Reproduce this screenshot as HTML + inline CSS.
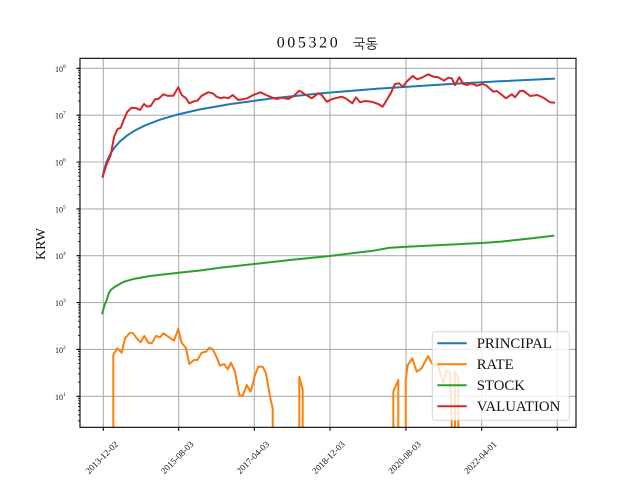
<!DOCTYPE html>
<html>
<head>
<meta charset="utf-8">
<style>
html,body{margin:0;padding:0;background:#fff;}
svg{display:block;}
text{font-family:"Liberation Serif","DejaVu Serif",serif;fill:#111;}
</style>
</head>
<body>
<svg width="640" height="480" viewBox="0 0 640 480" xmlns="http://www.w3.org/2000/svg">
<defs>
<clipPath id="ax"><rect x="80" y="58.3" width="496" height="369"/></clipPath>
</defs>
<rect x="0" y="0" width="640" height="480" fill="#fff"/>

<!-- grid -->
<g stroke="#b0b0b0" stroke-width="1.1" fill="none">
<path d="M103.3 58.3V427.3M178.7 58.3V427.3M254.3 58.3V427.3M330 58.3V427.3M406 58.3V427.3M481.7 58.3V427.3M557.3 58.3V427.3"/>
<path d="M80 396.3H576M80 349.4H576M80 302.6H576M80 255.7H576M80 208.9H576M80 162H576M80 115.2H576M80 68.3H576"/>
</g>

<!-- series -->
<g clip-path="url(#ax)" fill="none" stroke-width="2" stroke-linejoin="round" stroke-linecap="square">
<!-- PRINCIPAL -->
<path stroke="#1f77b4" d="M102.7,176.45 L104,170.43 L106,163.66 L108,158.59 L111,152.76 L115,146.93 L120,141.4 L127,135.55 L135,130.44 L145,125.44 L160,119.7 L178.3,114.34 L200,109.41 L230,104.1 L270,98.67 L320,93.43 L380,88.54 L450,84 L500,81.28 L554,78.7"/>
<!-- RATE -->
<path stroke="#ff7f0e" d="M113.3,430 L113.3,355 L117.3,348.3 L121.7,352.7 L125,338.3 L130,332.7 L133.3,333.3 L136.7,338.3 L140.7,342.3 L144.3,336 L148.3,342.7 L151.7,343.3 L156,336 L160,337.3 L163.3,333.3 L168.3,336.7 L174,340.7 L178.3,329 L181.7,342.7 L186,348.3 L189.3,364 L194,360 L197.3,360 L201.7,352.7 L206,351.7 L209.3,347.7 L212.7,349.3 L216.7,357.3 L220,365.7 L224.3,364 L227.7,369.3 L231,362.7 L235,371.7 L239.3,395 L242.7,396 L246.7,385 L250.7,391.7 L255,375 L258.3,366.7 L262.7,366.7 L266,373.3 L270,396.7 L272.7,408.3 L272.7,430"/>
<path stroke="#ff7f0e" d="M299.3,430 L299.3,376.7 L302.7,390 L302.7,430"/>
<path stroke="#ff7f0e" d="M393.3,430 L393.3,391.7 L398.3,380 L398.3,430"/>
<path stroke="#ff7f0e" d="M405.7,430 L405.7,380 L407.7,365 L410,361.7 L412.3,358.3 L416.7,371.7 L421.7,368.3 L425,361.7 L428.3,356 L431.7,363.3 L438.3,366.7 L443.3,383.3 L446.7,370 L450,373.3 L451.7,423 L451.7,430"/>
<path stroke="#ff7f0e" d="M455,430 L455,372 L458.3,378 L458.3,430"/>
<!-- STOCK -->
<path stroke="#2ca02c" d="M102.3,313.3 L104.5,305 L106.7,300 L108.5,294 L110.7,290 L115,286.7 L123.3,282 L133.3,279 L150,276 L178.7,272.7 L200,270.5 L220,267.7 L254.3,264 L290,260 L330,256 L350,253.5 L373.3,250.7 L390,247.7 L406.7,246.7 L481.7,243 L500,241.7 L530,238.5 L553.3,235.7"/>
<!-- VALUATION -->
<path stroke="#d62728" d="M102.7,176.7 L106,166 L110.7,155 L114,137.3 L117.3,129.3 L120.7,127.7 L124,119.3 L127.3,111.7 L131.7,107.7 L136.7,108.3 L140,110 L144,104 L147.3,106.7 L150.7,106 L155,99.3 L158.3,99 L163.3,94.3 L167.3,95.7 L173.3,95.7 L178.3,87.3 L181.7,95 L186,98.3 L189.3,103.3 L194,101.3 L197.3,100.7 L201.7,95.7 L208.3,92.3 L212.7,93.3 L216.7,96.7 L220.7,98.3 L224,97.3 L228.3,98.3 L232.7,95 L238.3,100 L242.7,99.3 L247.3,98.3 L253.3,95 L260.7,92.3 L266,95 L271.7,97.3 L276.7,99 L281.7,97.7 L288.3,99 L294,95.7 L299.3,90.7 L305,94.3 L311.7,98.3 L318.3,93.3 L321.7,95 L326.7,101.7 L331.7,99.3 L335,98.3 L341.7,96.7 L346.7,99 L352.3,103.3 L356,97.3 L360,102.3 L365,101 L371.7,101.7 L378.3,104 L382.7,106.7 L386.7,100 L390.7,93.3 L395,84 L399,83.3 L402.7,86.7 L407.3,81 L412.7,76 L417.3,79.3 L422.7,77.3 L428.3,74.3 L433.3,76.7 L438.3,77.3 L444,80.7 L448.3,77.7 L451.7,78.3 L455,85 L459.3,77.3 L463.3,84 L467.3,85 L471.7,83.3 L476.7,85.7 L482.7,84 L486.7,85.7 L493.3,91.7 L496.7,91 L500.7,94 L506,98.3 L511.7,94.3 L515,97.3 L520,91 L523.3,90.7 L530,96 L537.3,95 L543.3,97.7 L550,102.3 L554,102.7"/>
</g>

<!-- spines -->
<rect x="80" y="58.3" width="496" height="369" fill="none" stroke="#000" stroke-width="1.1"/>

<!-- ticks -->
<g stroke="#000" fill="none">
<path stroke-width="1.1" d="M103.3 427.3v3.5M178.7 427.3v3.5M254.3 427.3v3.5M330 427.3v3.5M406 427.3v3.5M481.7 427.3v3.5M557.3 427.3v3.5"/>
<path stroke-width="1.1" d="M76.5 396.3h3.5M76.5 349.4h3.5M76.5 302.6h3.5M76.5 255.7h3.5M76.5 208.9h3.5M76.5 162h3.5M76.5 115.2h3.5M76.5 68.3h3.5"/>
<path stroke-width="0.8" d="M78 420.8h2M78 414.95h2M78 410.41h2M78 406.7h2M78 403.56h2M78 400.84h2M78 398.44h2
M78 382.19h2M78 373.94h2M78 368.09h2M78 363.55h2M78 359.84h2M78 356.7h2M78 353.98h2M78 351.58h2
M78 335.33h2M78 327.08h2M78 321.23h2M78 316.69h2M78 312.98h2M78 309.84h2M78 307.12h2M78 304.72h2
M78 288.48h2M78 280.23h2M78 274.38h2M78 269.84h2M78 266.13h2M78 262.99h2M78 260.27h2M78 257.87h2
M78 241.62h2M78 233.37h2M78 227.52h2M78 222.98h2M78 219.27h2M78 216.13h2M78 213.41h2M78 211.01h2
M78 194.76h2M78 186.51h2M78 180.66h2M78 176.12h2M78 172.41h2M78 169.27h2M78 166.55h2M78 164.15h2
M78 147.9h2M78 139.65h2M78 133.8h2M78 129.26h2M78 125.55h2M78 122.41h2M78 119.69h2M78 117.29h2
M78 101.05h2M78 92.8h2M78 86.95h2M78 82.41h2M78 78.7h2M78 75.56h2M78 72.84h2M78 70.44h2"/>
</g>

<!-- y tick labels -->
<g font-size="8" fill="#222">
<text x="55" y="399.8">10<tspan font-size="5.5" dy="-4">1</tspan></text>
<text x="55" y="352.9">10<tspan font-size="5.5" dy="-4">2</tspan></text>
<text x="55" y="306.1">10<tspan font-size="5.5" dy="-4">3</tspan></text>
<text x="55" y="259.2">10<tspan font-size="5.5" dy="-4">4</tspan></text>
<text x="55" y="212.4">10<tspan font-size="5.5" dy="-4">5</tspan></text>
<text x="55" y="165.5">10<tspan font-size="5.5" dy="-4">6</tspan></text>
<text x="55" y="118.7">10<tspan font-size="5.5" dy="-4">7</tspan></text>
<text x="55" y="71.8">10<tspan font-size="5.5" dy="-4">8</tspan></text>
</g>

<!-- x tick labels -->
<g font-size="9" fill="#222" text-anchor="middle">
<text transform="translate(101.8,457.5) rotate(-45)" dominant-baseline="central">2013-12-02</text>
<text transform="translate(177.2,457.5) rotate(-45)" dominant-baseline="central">2015-08-03</text>
<text transform="translate(252.8,457.5) rotate(-45)" dominant-baseline="central">2017-04-03</text>
<text transform="translate(328.5,457.5) rotate(-45)" dominant-baseline="central">2018-12-03</text>
<text transform="translate(404.5,457.5) rotate(-45)" dominant-baseline="central">2020-08-03</text>
<text transform="translate(480.2,457.5) rotate(-45)" dominant-baseline="central">2022-04-01</text>
</g>

<!-- y label -->
<text transform="translate(45,244) rotate(-90)" text-anchor="middle" font-size="14">KRW</text>

<!-- title -->
<text x="276.7" y="47.7" font-size="16" textLength="61" lengthAdjust="spacing">005320</text>
<text x="352.7" y="48.5" font-size="13.5" style="font-family:'NanumGothic','Noto Sans CJK KR',sans-serif;">국동</text>

<!-- legend -->
<rect x="432.3" y="331.7" width="137" height="88.5" rx="2.5" ry="2.5" fill="#fff" fill-opacity="0.8" stroke="#cccccc" stroke-opacity="0.8" stroke-width="1"/>
<g stroke-width="2" fill="none">
<path stroke="#1f77b4" d="M437.3 343.3H466.7"/>
<path stroke="#ff7f0e" d="M437.3 364.3H466.7"/>
<path stroke="#2ca02c" d="M437.3 385.3H466.7"/>
<path stroke="#d62728" d="M437.3 406.3H466.7"/>
</g>
<g font-size="14.8">
<text x="476.7" y="348.2">PRINCIPAL</text>
<text x="476.7" y="369.2">RATE</text>
<text x="476.7" y="390.2">STOCK</text>
<text x="476.7" y="411.2">VALUATION</text>
</g>
</svg>
</body>
</html>
